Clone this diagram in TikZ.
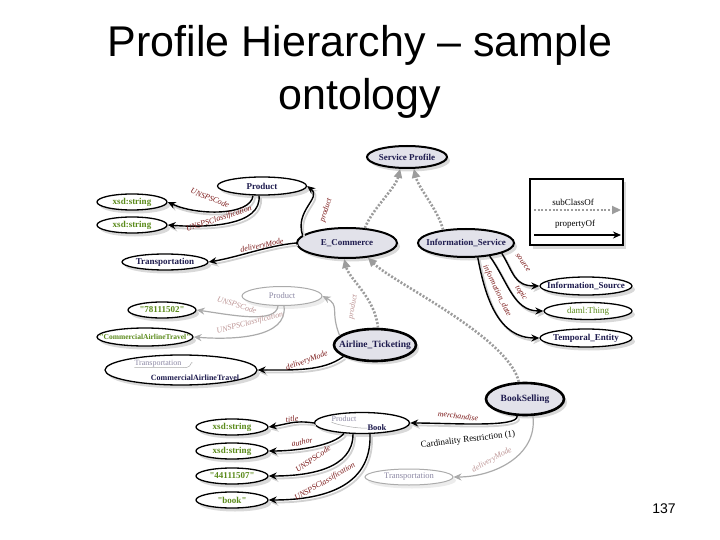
\documentclass[tikz,border=0pt]{standalone}
\usepackage{fontspec}
\setmainfont{Liberation Serif}
\newfontfamily\arialfont{Liberation Sans}
\usetikzlibrary{shapes.geometric,arrows.meta,shadows,calc}

\definecolor{navy}{HTML}{1E1B4E}
\definecolor{lblred}{HTML}{7A1818}
\definecolor{grn}{HTML}{5A8A1A}
\definecolor{nodefill}{HTML}{E2E2EA}
\definecolor{fadegray}{HTML}{ABABAB}
\definecolor{fadetext}{HTML}{8C88A4}
\definecolor{fadelbl}{HTML}{BC9494}
\definecolor{dotgray}{HTML}{9C9C9C}
\newcommand{\qq}{\textquotedbl}

\begin{document}
\begin{tikzpicture}[x=1pt,y=-1pt,
  ont/.style={ellipse, draw=black, line width=1.3pt, fill=white,
    inner xsep=-40pt, inner ysep=-10pt,
    font=\fontsize{9}{10}\selectfont\bfseries, text=navy,
    drop shadow={opacity=0.3, shadow xshift=3pt, shadow yshift=-3.5pt}},
  mainnode/.style={ont, fill=nodefill, line width=2pt},
  keynode/.style={ont, fill=nodefill, line width=2.6pt, font=\fontsize{9.5}{10}\selectfont\bfseries},
  lit/.style={ont, text=grn},
  faded/.style={ellipse, draw=fadegray, line width=1pt, fill=white,
    inner xsep=-40pt, inner ysep=-10pt,
    font=\fontsize{8.5}{10}\selectfont, text=fadetext,
    drop shadow={opacity=0.15, shadow xshift=3pt, shadow yshift=-3.5pt}},
  prop/.style={draw=black, line width=1.4pt, -{Stealth[length=8pt,width=7pt]},
    preaction={draw=black!18, line width=1.8pt, transform canvas={xshift=2pt,yshift=-2.5pt}}},
  fprop/.style={draw=fadegray, line width=1.2pt, -{Stealth[length=8pt,width=7pt]}},
  sub/.style={draw=dotgray, line width=2.6pt, dash pattern=on 2pt off 1.7pt,
    -{Triangle[length=9pt,width=8pt]}},
  lbl/.style={font=\fontsize{8}{9}\selectfont\itshape, text=lblred, inner sep=0.5pt},
  flbl/.style={lbl, text=fadelbl}
]
\useasboundingbox (0,0) rectangle (720,540);

% title
\node[font=\arialfont\fontsize{43}{48}\selectfont, anchor=base] (t1) at (360,57) {Profile Hierarchy – sample};
\node[font=\arialfont\fontsize{43}{48}\selectfont, anchor=base] (t2) at (360,110) {ontology};
\node[font=\arialfont\fontsize{14}{16}\selectfont, anchor=base] (pg) at (664,513) {137};

% nodes
\node[mainnode, minimum width=80, minimum height=22] (sp) at (407,157) {Service Profile};
\node[ont, minimum width=89, minimum height=18] (prod1) at (262,186) {Product};
\node[lit, minimum width=70, minimum height=16] (xs1) at (132,202) {xsd:string};
\node[lit, minimum width=70, minimum height=16] (xs2) at (132,225) {xsd:string};
\node[ont, minimum width=86, minimum height=16] (trans1) at (165,262) {Transportation};
\node[mainnode, minimum width=100, minimum height=30] (ec) at (347,243) {E\_Commerce};
\node[mainnode, minimum width=96, minimum height=28] (is) at (466,243) {Information\_Service};
\node[ont, minimum width=92, minimum height=18] (isrc) at (586,286) {Information\_Source};
\node[lit, minimum width=88, minimum height=17, font=\fontsize{9}{10}\selectfont] (daml) at (588,311) {daml:Thing};
\node[ont, minimum width=92, minimum height=18] (temp) at (586,338) {Temporal\_Entity};

\node[faded, minimum width=80, minimum height=19] (prod2) at (282,296) {Product};
\node[lit, minimum width=68, minimum height=16] (n78) at (162,310) {\qq78111502\qq};
\node[lit, minimum width=96, minimum height=18, font=\fontsize{7.5}{8}\selectfont\bfseries] (ncat) at (145,337) {\qq CommercialAirlineTravel\qq};
\node[keynode, minimum width=82, minimum height=32] (air) at (375,345) {Airline\_Ticketing};
\node[ont, minimum width=152, minimum height=30] (tcat) at (181,370) {};
\node[font=\fontsize{8}{9}\selectfont, text=fadetext, inner sep=0pt] (tct1) at (158,364) {Transportation};
\node[font=\fontsize{8}{9}\selectfont\bfseries, text=navy, inner sep=0pt] (tct2) at (195,378) {CommercialAirlineTravel};
\draw[fadegray, line width=0.5pt] (tct1.south west) -- (tct1.south east) .. controls +(4,-1) and +(-2,3) .. ([xshift=8pt,yshift=-2pt]tct1.east) .. controls +(2,-3) and +(-1,-2) .. ([xshift=11pt,yshift=1pt]tct1.east);

\node[keynode, minimum width=78, minimum height=32] (bs) at (525,399) {BookSelling};
\node[ont, minimum width=95, minimum height=21] (pb) at (362,423) {};
\node[font=\fontsize{8}{9}\selectfont, text=fadetext, inner sep=0pt] (pbt1) at (344,419) {Product};
\node[font=\fontsize{8.5}{9}\selectfont\bfseries, text=navy, inner sep=0pt] (pbt2) at (377,428) {Book};
\draw[fadegray, line width=0.5pt] (pbt1.south west) .. controls +(5,3) and +(-8,1) .. (pbt2.west);

\node[lit, minimum width=72, minimum height=16] (xs3) at (232,427) {xsd:string};
\node[lit, minimum width=72, minimum height=16] (xs4) at (232,451) {xsd:string};
\node[lit, minimum width=72, minimum height=16] (n44) at (232,476) {\qq44111507\qq};
\node[lit, minimum width=72, minimum height=16] (nbook) at (232,500) {\qq book\qq};
\node[faded, minimum width=88, minimum height=16] (trans2) at (409,477) {Transportation};

% legend
\node[draw=black, line width=2pt, fill=white, minimum width=93, minimum height=66, inner sep=0pt,
  drop shadow={opacity=0.3, shadow xshift=3pt, shadow yshift=-3.5pt}] (legend) at (576.5,212) {};
\node[font=\fontsize{9}{10}\selectfont] (lsub) at (573,202) {subClassOf};
\node[font=\fontsize{9}{10}\selectfont] (lprop) at (575,224) {propertyOf};
\coordinate (lsa) at (534,210);
\coordinate (lsb) at (621,210);
\coordinate (lpa) at (534,235);
\coordinate (lpb) at (621,235);
\draw[sub] (lsa) -- (lsb);
\draw[draw=black, line width=1.4pt, -{Stealth[length=8pt,width=7pt]}] (lpa) -- (lpb);

% subclass (dotted) edges
\draw[sub] (ec.40) .. controls +(8,-20) and +(-5,20) .. (sp.-120);
\draw[sub] (is.150) .. controls +(-5,-20) and +(5,20) .. (sp.-60);
\draw[sub] (air.80) .. controls +(-3,-30) and +(5,20) .. (ec.-100);
\draw[sub] (bs.110) .. controls +(-10,-45) and +(25,25) .. (ec.-35);

% faded property edges
\draw[fprop] ([xshift=-4pt]prod2.south) .. controls +(-2,18) and +(35,5) .. (n78.east);
\draw[fprop] ([xshift=2pt]prod2.south) .. controls +(4,32) and +(40,3) .. (ncat.east);
\draw[fprop] (air.165) .. controls +(-10,-25) and +(18,10) .. (prod2.east);
\draw[fprop] (bs.-65) .. controls +(5,40) and +(40,0) .. (trans2.east);
\node[flbl, rotate=-18] (fl1) at (237,305) {UNSPSCode};
\node[flbl, rotate=15] (fl2) at (250,323) {UNSPSClassification};
\node[flbl, rotate=80] (fl3) at (353,307) {product};
\node[flbl, rotate=28] (fl4) at (492,460) {deliveryMode};

% property edges
\draw[prop] ([xshift=-9pt]prod1.south) .. controls +(-2,20) and +(30,14) .. (xs1.east);
\draw[prop] ([xshift=-3pt]prod1.south) .. controls +(3,30) and +(40,3) .. (xs2.east);
\draw[prop] (ec.170) .. controls +(-8,-25) and +(15,12) .. (prod1.east);
\draw[prop] (ec.west) .. controls +(-30,3) and +(30,-5) .. (trans1.east);
\draw[prop] (is.-16) .. controls +(12,20) and +(-25,0) .. (isrc.west);
\draw[prop] (is.-29) .. controls +(18,25) and +(-30,0) .. (daml.west);
\draw[prop] (is.-51) .. controls +(8,43) and +(-40,0) .. (temp.west);
\draw[prop] (air.200) .. controls +(-20,15) and +(35,0) .. (tcat.east);
\draw[prop] (bs.-115) .. controls +(2,12) and +(40,0) .. (pb.east);
\draw[prop] (pb.west) .. controls +(-20,-3) and +(20,-3) .. (xs3.east);
\draw[prop] (pb.-150) .. controls +(-10,12) and +(30,0) .. (xs4.east);
\draw[prop] ([xshift=-9pt]pb.south) .. controls +(0,35) and +(40,0) .. (n44.east);
\draw[prop] ([xshift=8pt]pb.south) .. controls +(2,55) and +(50,0) .. (nbook.east);

\node[lbl, rotate=-22] (l1) at (210,198) {UNSPSCode};
\node[lbl, rotate=18] (l2) at (219,219) {UNSPSClassification};
\node[lbl, rotate=72] (l3) at (326,210) {product};
\node[lbl, rotate=12] (l4) at (262,246) {deliveryMode};
\node[lbl, rotate=-55] (l5) at (523,263) {source};
\node[lbl, rotate=-58] (l6) at (521,293) {topic};
\node[lbl, rotate=-64] (l7) at (497,291) {information\_date};
\node[lbl, rotate=20] (l8) at (307,361) {deliveryMode};
\node[lbl, rotate=-7] (l9) at (458,416) {merchandise};
\node[font=\fontsize{9}{10}\selectfont, rotate=7] (card) at (468,440) {Cardinality Restriction (1)};
\node[lbl, rotate=8] (l10) at (292,419) {title};
\node[lbl, rotate=12] (l11) at (302,442) {author};
\node[lbl, rotate=35] (l12) at (313,459) {UNSPSCode};
\node[lbl, rotate=30] (l13) at (325,482) {UNSPSClassification};
\end{tikzpicture}
\end{document}
